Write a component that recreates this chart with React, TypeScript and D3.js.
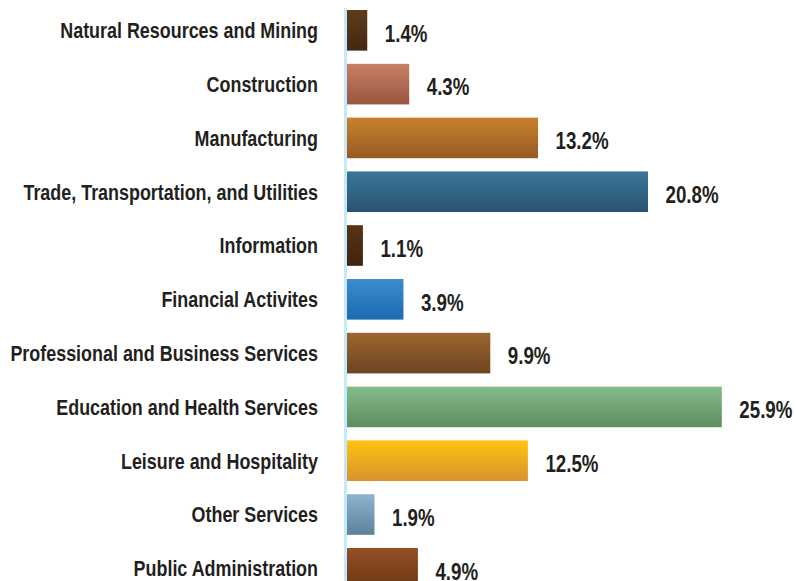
import React, { useEffect, useRef } from 'react';
import * as d3 from 'd3';

// Share of employment by industry (%)
const categories = [
  'Natural Resources and Mining',
  'Construction',
  'Manufacturing',
  'Trade, Transportation, and Utilities',
  'Information',
  'Financial Activites',
  'Professional and Business Services',
  'Education and Health Services',
  'Leisure and Hospitality',
  'Other Services',
  'Public Administration',
];
const values = [1.4, 4.3, 13.2, 20.8, 1.1, 3.9, 9.9, 25.9, 12.5, 1.9, 4.9];
const topColors = ['#5f3b1d', '#c88066', '#c9812c', '#3a7698', '#5a3312', '#3c8ccf', '#9c6630', '#84bc8a', '#fec313', '#8cb4d0', '#955024'];
const bottomColors = ['#442810', '#9b5540', '#965a25', '#2b5270', '#3e2410', '#1c6bb0', '#6b4420', '#5d8d60', '#d8932c', '#5d8199', '#6a3715'];

const FONT = '"Liberation Sans", Arial, sans-serif';

export default function App() {
  const svgRef = useRef<SVGSVGElement>(null);

  useEffect(() => {
    const width = 796;
    const height = 581;
    const svg = d3.select(svgRef.current);
    svg.selectAll('*').remove();
    svg.attr('width', width).attr('height', height);

    const step = 53.8;
    const pad = 0.245;
    const y = d3.scaleBand<string>()
      .domain(categories)
      .range([10, 10 + step * (categories.length - pad)])
      .paddingInner(pad)
      .paddingOuter(0);

    const x = d3.scaleLinear()
      .domain([0, 25.9])
      .range([347, 721.8]);

    // 漸層
    const defs = svg.append('defs');
    categories.forEach((c, i) => {
      const g = defs.append('linearGradient')
        .attr('id', `grad${i}`)
        .attr('x1', 0).attr('y1', 0).attr('x2', 0).attr('y2', 1);
      g.append('stop').attr('offset', '0%').attr('stop-color', topColors[i]);
      g.append('stop').attr('offset', '100%').attr('stop-color', bottomColors[i]);
    });

    const data = categories.map((c, i) => ({ c, v: values[i], i }));

    // bars
    svg.selectAll('.bar')
      .data(data)
      .enter()
      .append('rect')
      .attr('class', 'bar')
      .attr('x', x(0))
      .attr('y', d => y(d.c)!)
      .attr('width', d => x(d.v) - x(0))
      .attr('height', y.bandwidth())
      .attr('fill', d => `url(#grad${d.i})`);

    // axis line
    svg.append('line')
      .attr('x1', x(0) - 1.5).attr('x2', x(0) - 1.5)
      .attr('y1', 8).attr('y2', height)
      .attr('stroke', '#c6e9fa')
      .attr('stroke-width', 3);

    // 用第一個標籤量出壓縮比例 (condensed look)
    const probe = svg.append('text')
      .attr('font-family', FONT)
      .attr('font-weight', 'bold')
      .attr('font-size', 22)
      .text(categories[0]);
    const natural = (probe.node() as SVGTextElement).getComputedTextLength() || 320;
    probe.remove();
    const k = 258 / natural;

    // category labels
    svg.selectAll('.cat')
      .data(data)
      .enter()
      .append('text')
      .attr('class', 'cat')
      .attr('transform', d => `translate(318,${y(d.c)! + y.bandwidth() / 2}) scale(${k},1)`)
      .attr('dy', '0.36em')
      .attr('text-anchor', 'end')
      .attr('font-family', FONT)
      .attr('font-weight', 'bold')
      .attr('font-size', 22)
      .attr('fill', '#231f20')
      .text(d => d.c);

    // value labels
    svg.selectAll('.val')
      .data(data)
      .enter()
      .append('text')
      .attr('class', 'val')
      .attr('transform', d => `translate(${x(d.v) + 17.5},${y(d.c)! + y.bandwidth() / 2 + 3}) scale(${k},1)`)
      .attr('dy', '0.36em')
      .attr('font-family', FONT)
      .attr('font-weight', 'bold')
      .attr('font-size', 23)
      .attr('fill', '#231f20')
      .text(d => `${d.v.toFixed(1)}%`);
  }, []);

  return (
    <div style={{ position: 'absolute', left: 0, top: 0, background: '#fff' }}>
      <svg ref={svgRef} style={{ display: 'block' }}></svg>
    </div>
  );
}
